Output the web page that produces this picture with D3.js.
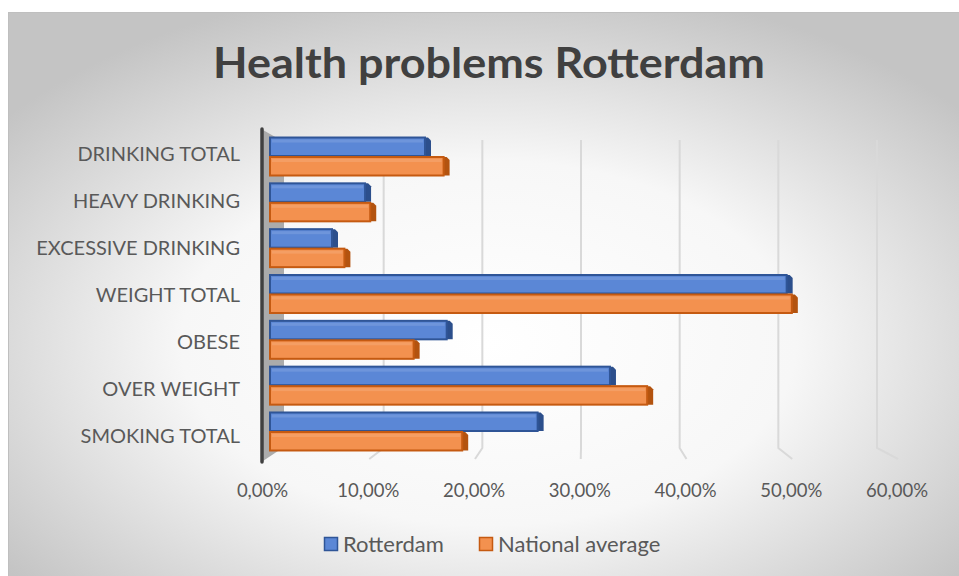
<!DOCTYPE html>
<html>
<head>
<meta charset="utf-8">
<script src="https://cdn.jsdelivr.net/npm/d3@7"></script>
<style>
  body { margin: 0; background: #fff; }
  svg text { font-family: Lato, "Open Sans", sans-serif; }
</style>
</head>
<body>
<div id="chart"></div>
<script>
// Chart data
var categories = ["DRINKING TOTAL", "HEAVY DRINKING", "EXCESSIVE DRINKING", "WEIGHT TOTAL", "OBESE", "OVER WEIGHT", "SMOKING TOTAL"];
var rotterdam = [0.150, 0.092, 0.060, 0.500, 0.171, 0.329, 0.259];
var national = [0.168, 0.097, 0.072, 0.505, 0.139, 0.365, 0.186];
var seriesNames = ["Rotterdam", "National average"];
var tickValues = [0, 0.1, 0.2, 0.3, 0.4, 0.5, 0.6];

var svgWidth = 959;
var svgHeight = 576;

var colors = {
  "Rotterdam": { fill: "#5b87d6", stroke: "#2f5597", side: "#2c4f8c" },
  "National average": { fill: "#f3914f", stroke: "#c55a11", side: "#b3530f" }
};

var svg = d3.select("#chart")
  .append("svg")
  .attr("width", svgWidth)
  .attr("height", svgHeight);

// Background gradient of the chart area
var defs = svg.append("defs");
var grad = defs.append("radialGradient")
  .attr("id", "bg")
  .attr("cx", "50%").attr("cy", "58%").attr("r", "64%");
grad.append("stop").attr("offset", "0%").attr("stop-color", "#ffffff");
grad.append("stop").attr("offset", "50%").attr("stop-color", "#f7f7f7");
grad.append("stop").attr("offset", "100%").attr("stop-color", "#c4c4c4");

svg.append("rect")
  .attr("x", 8.5).attr("y", 12.5)
  .attr("width", 960).attr("height", 570)
  .attr("fill", "url(#bg)")
  .attr("stroke", "#bfbfbf");

// Title
svg.append("text")
  .attr("x", 489).attr("y", 78)
  .attr("text-anchor", "middle")
  .attr("font-size", "42px")
  .attr("font-weight", "bold")
  .attr("fill", "#404040")
  .attr("textLength", 552)
  .attr("lengthAdjust", "spacingAndGlyphs")
  .text("Health problems Rotterdam");

// Scales: front edge of the floor, back wall, and bar depth
var xFront = d3.scaleLinear().domain([0, 0.6]).range([263.5, 898]);
var xBack = d3.scaleLinear().domain([0, 0.6]).range([285, 877]);
var xBar = d3.scaleLinear().domain([0, 0.6]).range([270, 890]);

var yBand = d3.scaleBand().domain(categories).range([133.6, 454.4]);
var yLabel = d3.scaleBand().domain(categories).range([130.5, 459.5]);
var ySeries = d3.scaleBand().domain(seriesNames).range([-19, 19]).paddingInner(0.05);

var wallTop = 140, wallBottom = 448, floorFront = 459;

// Gridlines (back wall + floor)
var grid = svg.append("g");
tickValues.slice(1).forEach(function(t) {
  grid.append("path")
    .attr("d", d3.line()([[xBack(t), wallTop], [xBack(t), wallBottom], [xFront(t), floorFront]]))
    .attr("fill", "none")
    .attr("stroke", "#d9d9d9")
    .attr("stroke-width", 2);
});

// Left side wall
svg.append("polygon")
  .attr("points", [[263, 130], [284, 142], [284, 447], [263, 461]].join(" "))
  .attr("fill", "#ababab");
svg.append("line")
  .attr("x1", 262).attr("x2", 262)
  .attr("y1", 129).attr("y2", 462)
  .attr("stroke", "#404040")
  .attr("stroke-width", 3.5)
  .attr("stroke-linecap", "round");

// Bars
var barData = [];
categories.forEach(function(c, i) {
  barData.push({ cat: c, series: "Rotterdam", value: rotterdam[i] });
  barData.push({ cat: c, series: "National average", value: national[i] });
});

var bars = svg.append("g").selectAll("g")
  .data(barData)
  .enter()
  .append("g");

bars.each(function(d) {
  var g = d3.select(this);
  var y0 = yBand(d.cat) + yBand.bandwidth() / 2 + ySeries(d.series);
  var h = ySeries.bandwidth();
  var x0 = xBar(0), x1 = xBar(d.value);
  var c = colors[d.series];
  // right end (side face)
  g.append("polygon")
    .attr("points", [[x1, y0], [x1 + 3, y0], [x1 + 6, y0 + 3], [x1 + 6, y0 + h], [x1, y0 + h]].join(" "))
    .attr("fill", c.side);
  // front face
  g.append("rect")
    .attr("x", x0).attr("y", y0)
    .attr("width", x1 - x0).attr("height", h)
    .attr("fill", c.fill)
    .attr("stroke", c.stroke)
    .attr("stroke-width", 2);
  // soft highlight under the top edge
  g.append("rect")
    .attr("x", x0 + 2).attr("y", y0 + 2)
    .attr("width", Math.max(0, x1 - x0 - 4)).attr("height", 3)
    .attr("fill", "#ffffff")
    .attr("opacity", 0.12);
});

// Category labels
svg.append("g").selectAll("text")
  .data(categories)
  .enter()
  .append("text")
  .attr("x", 240)
  .attr("y", d => yLabel(d) + yLabel.bandwidth() / 2)
  .attr("dy", "0.35em")
  .attr("text-anchor", "end")
  .attr("font-size", "20px")
  .attr("fill", "#595959")
  .text(d => d);

// Value axis labels
var pct = d3.formatLocale({ decimal: ",", thousands: ".", grouping: [3], currency: ["", "€"] }).format(".2%");
svg.append("g").selectAll("text")
  .data(tickValues)
  .enter()
  .append("text")
  .attr("x", d => xFront(d) - 1)
  .attr("y", 497)
  .attr("text-anchor", "middle")
  .attr("font-size", "18.5px")
  .attr("fill", "#595959")
  .text(d => pct(d));

// Legend
var legend = svg.append("g");
var legendX = [324, 479];
seriesNames.forEach(function(s, i) {
  legend.append("rect")
    .attr("x", legendX[i] + 0.5).attr("y", 537.5)
    .attr("width", 13).attr("height", 13)
    .attr("fill", colors[s].fill)
    .attr("stroke", colors[s].stroke)
    .attr("stroke-width", 1.5);
  legend.append("text")
    .attr("x", legendX[i] + 19)
    .attr("y", 552)
    .attr("font-size", "22px")
    .attr("fill", "#595959")
    .text(s);
});
</script>
</body>
</html>
